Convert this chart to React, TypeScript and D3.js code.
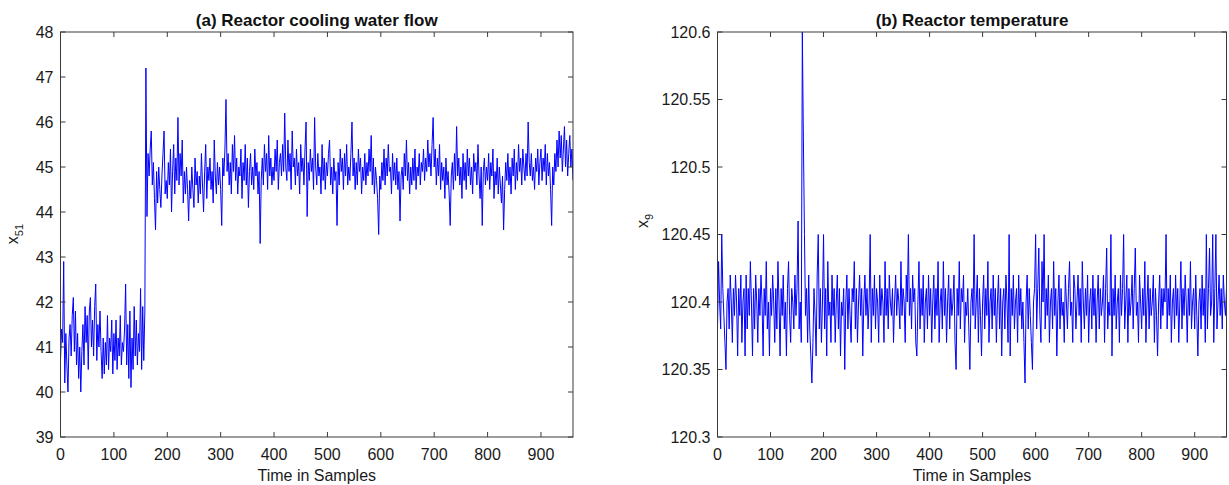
import React from "react";
import * as d3 from "d3";

// values every 2nd sample
const sampleStep = 2;

// (a) reactor cooling water flow, x51
const coolingFlow = [
  40.7, 41.4, 41.1, 42.9, 40.2, 41.3, 40.6, 40.0, 41.2, 41.5,
  40.8, 41.7, 42.1, 40.9, 41.8, 40.6, 41.3, 40.3, 41.0, 40.0,
  40.9, 41.5, 40.6, 41.9, 41.1, 41.7, 40.5, 41.8, 42.1, 41.0,
  41.6, 40.8, 41.9, 42.4, 40.7, 41.5, 41.0, 41.8, 40.9, 40.3,
  41.2, 40.4, 41.1, 40.6, 41.7, 40.5, 41.2, 40.9, 41.6, 40.4,
  41.3, 40.7, 41.6, 40.5, 41.2, 40.8, 41.7, 40.6, 41.1, 40.9,
  41.4, 42.4, 40.6, 41.5, 40.3, 41.8, 40.1, 41.2, 40.5, 41.9,
  40.8, 41.6, 40.6, 41.3, 40.9, 42.3, 40.5, 41.9, 40.7, 41.8,
  47.2, 43.9, 45.3, 44.8, 45.4, 45.8, 44.6, 45.1, 44.3, 43.6,
  44.9, 44.2, 45.0, 44.5, 44.1, 44.8, 45.3, 45.8, 44.4, 44.7,
  44.3, 45.1, 44.6, 45.4, 44.0, 44.9, 45.5, 44.4, 45.2, 44.7,
  46.1, 44.6, 45.3, 44.8, 45.6, 44.2, 44.9, 44.4, 45.0, 44.5,
  43.8, 44.7, 44.3, 45.0, 44.5, 44.1, 45.2, 44.6, 44.9, 44.2,
  44.8, 44.4, 45.3, 44.6, 44.0, 44.9, 45.5, 44.3, 45.0, 44.7,
  45.2, 44.5, 44.9, 44.2, 45.6, 44.8, 44.4, 45.1, 44.6, 45.0,
  44.5, 43.7, 45.2, 44.8, 45.4, 46.5, 44.9, 45.3, 44.6, 45.1,
  44.4, 45.5, 44.9, 45.7, 44.7, 45.2, 44.4, 45.0, 44.8, 45.4,
  44.3, 45.1, 44.7, 45.5, 44.6, 45.2, 44.1, 44.9, 45.3, 44.6,
  45.0, 44.5, 45.4, 44.8, 45.1, 44.4, 44.9, 43.3, 44.7, 45.2,
  44.6, 45.5, 44.9, 45.3, 44.5, 45.7, 44.8, 45.2, 44.6, 45.0,
  44.7, 45.4, 44.9, 45.6, 44.5, 45.1, 45.3, 44.8, 45.5, 44.9,
  46.2, 45.0, 44.7, 45.6, 44.9, 45.3, 44.5, 45.8, 45.0, 45.2,
  44.6, 45.4, 44.8, 45.1, 44.4, 45.5, 44.9, 45.2, 44.6, 45.4,
  46.0, 43.9, 45.1, 44.7, 45.4, 44.9, 45.2, 44.5, 46.1, 45.0,
  44.6, 45.3, 44.8, 45.0, 44.4, 45.5, 44.7, 45.2, 44.5, 45.1,
  44.8, 45.3, 45.6, 44.6, 45.0, 44.4, 45.2, 44.7, 44.9, 43.7,
  45.1, 44.6, 45.4, 44.9, 45.2, 44.5, 45.3, 44.8, 45.5, 44.6,
  45.0, 44.7, 45.3, 46.0, 44.8, 45.2, 44.5, 45.1, 44.6, 45.4,
  44.9, 45.2, 44.4, 45.0, 44.7, 45.3, 44.6, 45.1, 44.8, 45.4,
  44.9, 45.7, 44.6, 45.2, 44.4, 45.0, 44.7, 44.3, 43.5, 44.8,
  44.5, 45.1, 44.7, 45.4, 44.6, 45.2, 44.8, 45.5, 44.9, 45.0,
  44.4, 45.3, 44.7, 45.1, 44.6, 45.2, 44.5, 44.9, 43.8, 44.8,
  45.0, 44.5, 45.3, 44.8, 45.6, 44.7, 45.1, 44.4, 45.0, 44.6,
  45.2, 44.7, 45.4, 44.5, 45.0, 44.8, 45.3, 44.6, 45.1, 44.9,
  45.4, 44.7, 45.2, 44.9, 45.6, 45.0, 45.3, 44.8, 45.5, 46.1,
  45.0, 45.4, 44.6, 45.2, 44.8, 45.5, 44.5, 45.1, 44.7, 45.0,
  44.3, 45.2, 44.6, 44.9, 44.4, 43.7, 44.8, 45.1, 44.5, 45.3,
  44.7, 45.9, 44.8, 45.2, 44.6, 45.0, 44.3, 45.3, 44.7, 45.1,
  44.5, 45.4, 44.8, 45.2, 44.6, 45.0, 44.4, 45.3, 44.9, 45.1,
  44.6, 45.5, 44.8, 44.3, 45.0, 43.7, 44.9, 45.2, 44.6, 45.0,
  44.7, 45.3, 44.5, 45.1, 44.8, 45.4, 44.3, 44.9, 44.6, 45.2,
  44.4, 45.0, 44.6, 44.2, 44.8, 43.6, 44.5, 45.1, 44.7, 45.3,
  44.6, 45.0, 44.4, 45.2, 44.8, 45.4, 44.5, 45.1, 44.7, 45.5,
  44.9, 45.2, 44.6, 45.4, 45.0, 44.7, 45.3, 44.8, 46.0, 45.1,
  44.8, 45.3, 44.7, 45.0, 44.5, 45.2, 44.9, 45.4, 44.6, 45.1,
  45.4, 44.7, 45.2, 44.9, 45.5, 44.6, 45.3, 44.8, 45.1, 44.5,
  43.7, 45.0, 44.6, 45.3, 44.9, 45.6, 45.0, 45.8, 45.2, 45.7,
  44.9, 45.4, 45.9, 45.0, 45.6, 44.8, 45.3, 45.7, 45.0, 45.4,
  44.7,
];

// (b) reactor temperature, x9
const reactorTemp = [
  120.38, 120.43, 120.40, 120.38, 120.45, 120.41, 120.39, 120.37, 120.35, 120.40,
  120.41, 120.38, 120.42, 120.40, 120.37, 120.41, 120.39, 120.42, 120.40, 120.36,
  120.41, 120.39, 120.42, 120.37, 120.40, 120.41, 120.36, 120.42, 120.38, 120.41,
  120.39, 120.43, 120.40, 120.36, 120.41, 120.38, 120.42, 120.40, 120.37, 120.41,
  120.39, 120.42, 120.40, 120.36, 120.41, 120.39, 120.43, 120.38, 120.40, 120.36,
  120.41, 120.39, 120.42, 120.40, 120.37, 120.41, 120.38, 120.43, 120.40, 120.36,
  120.41, 120.39, 120.42, 120.38, 120.40, 120.36, 120.41, 120.43, 120.39, 120.37,
  120.41, 120.40, 120.38, 120.42, 120.39, 120.41, 120.46, 120.38, 120.40, 120.37,
  120.60, 120.52, 120.45, 120.39, 120.41, 120.37, 120.42, 120.38, 120.36, 120.34,
  120.37, 120.41, 120.39, 120.36, 120.42, 120.45, 120.38, 120.41, 120.37, 120.40,
  120.45, 120.38, 120.41, 120.36, 120.43, 120.39, 120.40, 120.37, 120.42, 120.39,
  120.41, 120.37, 120.40, 120.42, 120.38, 120.41, 120.36, 120.40, 120.39, 120.41,
  120.35, 120.40, 120.42, 120.38, 120.41, 120.39, 120.37, 120.41, 120.40, 120.43,
  120.38, 120.41, 120.37, 120.40, 120.42, 120.39, 120.41, 120.36, 120.40, 120.42,
  120.39, 120.41, 120.38, 120.40, 120.45, 120.37, 120.41, 120.39, 120.42, 120.38,
  120.41, 120.40, 120.37, 120.42, 120.39, 120.41, 120.40, 120.37, 120.43, 120.39,
  120.41, 120.38, 120.42, 120.40, 120.39, 120.41, 120.37, 120.40, 120.42, 120.39,
  120.41, 120.40, 120.38, 120.43, 120.39, 120.41, 120.40, 120.37, 120.42, 120.40,
  120.45, 120.39, 120.41, 120.38, 120.42, 120.40, 120.41, 120.37, 120.36, 120.40,
  120.43, 120.38, 120.41, 120.39, 120.42, 120.37, 120.40, 120.41, 120.38, 120.42,
  120.39, 120.41, 120.37, 120.40, 120.42, 120.38, 120.41, 120.39, 120.43, 120.37,
  120.40, 120.41, 120.38, 120.43, 120.39, 120.41, 120.37, 120.40, 120.42, 120.38,
  120.41, 120.39, 120.40, 120.42, 120.37, 120.35, 120.41, 120.39, 120.43, 120.38,
  120.41, 120.40, 120.42, 120.37, 120.40, 120.39, 120.41, 120.38, 120.35, 120.40,
  120.41, 120.39, 120.45, 120.38, 120.40, 120.42, 120.37, 120.41, 120.39, 120.36,
  120.40, 120.42, 120.38, 120.41, 120.39, 120.43, 120.37, 120.40, 120.41, 120.38,
  120.42, 120.39, 120.41, 120.37, 120.40, 120.42, 120.38, 120.41, 120.36, 120.40,
  120.41, 120.38, 120.42, 120.40, 120.37, 120.45, 120.36, 120.41, 120.39, 120.42,
  120.38, 120.40, 120.41, 120.37, 120.42, 120.39, 120.41, 120.38, 120.40, 120.37,
  120.34, 120.40, 120.42, 120.38, 120.41, 120.39, 120.37, 120.35, 120.40, 120.41,
  120.45, 120.38, 120.41, 120.44, 120.39, 120.37, 120.43, 120.40, 120.45, 120.38,
  120.41, 120.39, 120.42, 120.37, 120.40, 120.41, 120.38, 120.43, 120.39, 120.41,
  120.36, 120.40, 120.42, 120.38, 120.41, 120.39, 120.40, 120.37, 120.42, 120.40,
  120.38, 120.41, 120.43, 120.39, 120.40, 120.37, 120.42, 120.41, 120.38, 120.40,
  120.42, 120.39, 120.41, 120.37, 120.43, 120.40, 120.38, 120.41, 120.39, 120.42,
  120.37, 120.40, 120.41, 120.38, 120.42, 120.39, 120.41, 120.37, 120.40, 120.42,
  120.38, 120.41, 120.39, 120.40, 120.42, 120.37, 120.41, 120.44, 120.38, 120.40,
  120.39, 120.45, 120.36, 120.41, 120.39, 120.42, 120.38, 120.40, 120.41, 120.37,
  120.42, 120.39, 120.41, 120.45, 120.38, 120.40, 120.42, 120.37, 120.41, 120.39,
  120.40, 120.42, 120.38, 120.41, 120.44, 120.39, 120.40, 120.37, 120.42, 120.40,
  120.38, 120.41, 120.39, 120.43, 120.37, 120.40, 120.42, 120.38, 120.41, 120.39,
  120.40, 120.42, 120.37, 120.41, 120.39, 120.36, 120.40, 120.42, 120.38, 120.41,
  120.39, 120.41, 120.40, 120.45, 120.38, 120.41, 120.39, 120.42, 120.37, 120.40,
  120.41, 120.38, 120.42, 120.39, 120.41, 120.37, 120.40, 120.43, 120.38, 120.41,
  120.39, 120.42, 120.40, 120.37, 120.41, 120.39, 120.43, 120.38, 120.40, 120.41,
  120.38, 120.42, 120.39, 120.36, 120.40, 120.41, 120.38, 120.42, 120.39, 120.41,
  120.37, 120.45, 120.38, 120.41, 120.44, 120.39, 120.40, 120.45, 120.37, 120.41,
  120.45, 120.38, 120.40, 120.42, 120.39, 120.41, 120.38, 120.42, 120.40, 120.39,
  120.41,
];

const xTicks = [0, 100, 200, 300, 400, 500, 600, 700, 800, 900];
const flowTicks = [39, 40, 41, 42, 43, 44, 45, 46, 47, 48];
const tempTicks = [120.3, 120.35, 120.4, 120.45, 120.5, 120.55, 120.6];
const tempTickLabels = ["120.3", "120.35", "120.4", "120.45", "120.5", "120.55", "120.6"];

const FONT = "'Liberation Sans', Arial, Helvetica, sans-serif";
const AXIS_COLOR = "#3a3a3a";
const TICK_LEN = 5;
const plotTop = 32;
const plotBottom = 437;

type PanelProps = {
  id: string;
  left: number;
  right: number;
  values: number[];
  yDomain: [number, number];
  yTicks: number[];
  yTickLabels: string[];
  title: string;
  yName: string;
  ySub: string;
  yLabelX: number;
  yLabelY: number;
};

function Panel(p: PanelProps) {
  const x = d3.scaleLinear().domain([0, 960]).range([p.left, p.right]);
  const y = d3.scaleLinear().domain(p.yDomain).range([plotBottom, plotTop]);

  const line = d3
    .line<number>()
    .x((_, i) => x(i * sampleStep))
    .y(d => y(d));

  const cx = (p.left + p.right) / 2;

  return (
    <g>
      <clipPath id={`clip-${p.id}`}>
        <rect x={p.left} y={plotTop - 1} width={p.right - p.left} height={plotBottom - plotTop + 2} />
      </clipPath>

      {/* data */}
      <path
        d={line(p.values) || ""}
        fill="none"
        stroke="#0000ff"
        strokeWidth={1}
        clipPath={`url(#clip-${p.id})`}
      />

      {/* box */}
      <rect
        x={p.left}
        y={plotTop}
        width={p.right - p.left}
        height={plotBottom - plotTop}
        fill="none"
        stroke={AXIS_COLOR}
        strokeWidth={1}
      />

      {/* x ticks: bottom and top, pointing inward */}
      {xTicks.map(t => (
        <g key={`xt${t}`}>
          <line x1={x(t)} x2={x(t)} y1={plotBottom} y2={plotBottom - TICK_LEN} stroke={AXIS_COLOR} />
          <line x1={x(t)} x2={x(t)} y1={plotTop} y2={plotTop + TICK_LEN} stroke={AXIS_COLOR} />
          <text x={x(t)} y={plotBottom + 23} textAnchor="middle" fontFamily={FONT} fontSize={16} fill="#1a1a1a">
            {t}
          </text>
        </g>
      ))}

      {/* y ticks: left and right, pointing inward */}
      {p.yTicks.map((t, i) => (
        <g key={`yt${i}`}>
          <line x1={p.left} x2={p.left + TICK_LEN} y1={y(t)} y2={y(t)} stroke={AXIS_COLOR} />
          <line x1={p.right} x2={p.right - TICK_LEN} y1={y(t)} y2={y(t)} stroke={AXIS_COLOR} />
          <text
            x={p.left - 7}
            y={y(t)}
            dy="0.36em"
            textAnchor="end"
            fontFamily={FONT}
            fontSize={16}
            fill="#1a1a1a"
          >
            {p.yTickLabels[i]}
          </text>
        </g>
      ))}

      {/* title */}
      <text x={cx} y={26} textAnchor="middle" fontFamily={FONT} fontSize={17} fontWeight="bold" fill="#111">
        {p.title}
      </text>

      {/* x label */}
      <text x={cx} y={481} textAnchor="middle" fontFamily={FONT} fontSize={16} fill="#1a1a1a">
        Time in Samples
      </text>

      {/* y label */}
      <text
        transform={`translate(${p.yLabelX},${p.yLabelY}) rotate(-90)`}
        textAnchor="middle"
        fontFamily={FONT}
        fontSize={16}
        fill="#1a1a1a"
      >
        {p.yName}
        <tspan fontSize={11} dy={5}>
          {p.ySub}
        </tspan>
      </text>
    </g>
  );
}

export default function App() {
  return (
    <div style={{ position: "absolute", left: 0, top: 0 }}>
      <svg width={1229} height={485} style={{ display: "block", background: "#fff" }}>
        <Panel
          id="a"
          left={60.5}
          right={573}
          values={coolingFlow}
          yDomain={[39, 48]}
          yTicks={flowTicks}
          yTickLabels={flowTicks.map(String)}
          title="(a) Reactor cooling water flow"
          yName="x"
          ySub="51"
          yLabelX={17.5}
          yLabelY={234}
        />
        <Panel
          id="b"
          left={717.5}
          right={1226.5}
          values={reactorTemp}
          yDomain={[120.3, 120.6]}
          yTicks={tempTicks}
          yTickLabels={tempTickLabels}
          title="(b) Reactor temperature"
          yName="x"
          ySub="9"
          yLabelX={648}
          yLabelY={221}
        />
      </svg>
    </div>
  );
}
